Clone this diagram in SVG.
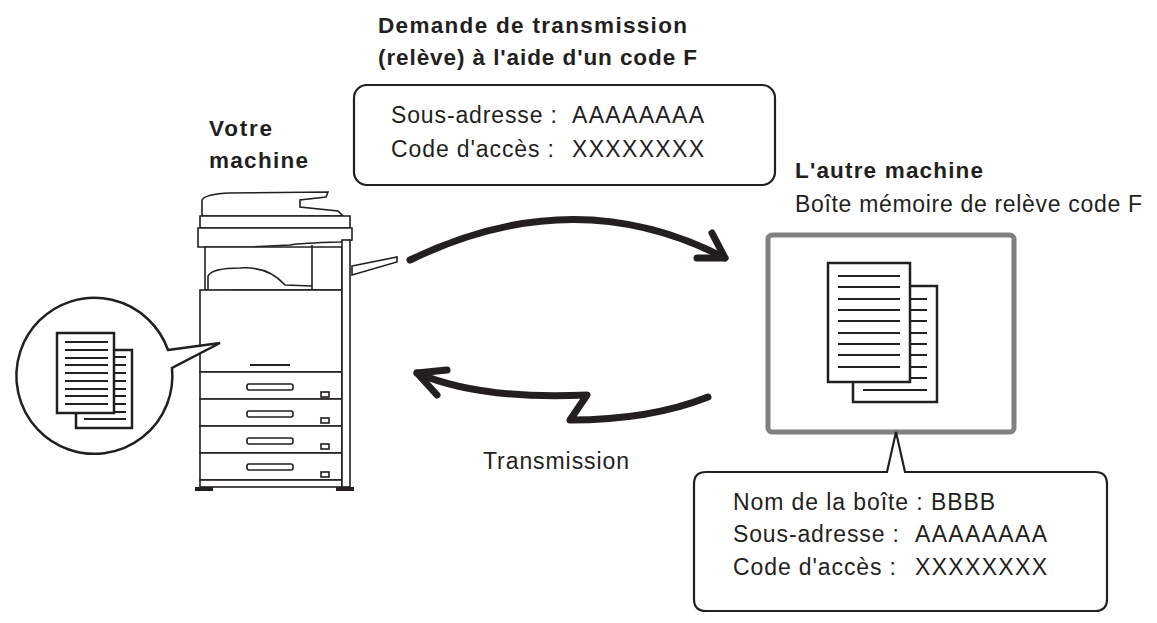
<svg xmlns="http://www.w3.org/2000/svg" width="1157" height="623" viewBox="0 0 1157 623">
<style>
text{font-family:"Liberation Sans",Arial,sans-serif;fill:#231f20}
.b{font-weight:bold;font-size:22.5px}
.t{font-size:23px}
.ln{stroke:#231f20;fill:none;stroke-width:2.2}
.pg{stroke:#231f20;fill:#fff;stroke-width:2.5}
.arr{stroke:#231f20;fill:none;stroke-width:7;stroke-linecap:round;stroke-linejoin:round}
.pr{stroke:#231f20;fill:#fff;stroke-width:1.6}
</style>
<rect width="1157" height="623" fill="#fff"/>
<g id="titre">
<text class="b" x="378" y="33" textLength="309">Demande de transmission</text>
<text class="b" x="378" y="65" textLength="319">(relève) à l'aide d'un code F</text>
</g>
<g id="demande">
<rect x="354" y="85" width="421" height="100" rx="13" class="ln"/>
<text class="t" x="391" y="123" textLength="166">Sous-adresse :</text>
<text class="t" x="572" y="123" textLength="132">AAAAAAAA</text>
<text class="t" x="391" y="157" textLength="163">Code d'accès :</text>
<text class="t" x="572" y="157" textLength="132">XXXXXXXX</text>
</g>
<g id="votre-machine">
<text class="b" x="209" y="136" textLength="63">Votre</text>
<text class="b" x="209" y="168" textLength="99">machine</text>
<path class="pr" d="M202 200 Q205 194 230 193 L328 192 L326 197 L300 200 L300 207 L338 211 L343 216 L202 216 Z"/>
<path class="pr" d="M200 216 L350 216 L350 228 L200 228 Z"/>
<path class="pr" d="M198 228 L352 228 L352 240 L340 242 Q300 243 290 245 L250 247 L198 247 Z"/>
<path class="pr" d="M205 247 L342 247 L342 290 L205 290 Z"/>
<path class="pr" d="M312 245 L312 290 M208 290 L208 276 Q212 268 240 268 Q268 266 285 285 L312 286"/>
<rect class="pr" x="200" y="290" width="142" height="82"/>
<line class="ln" x1="250" y1="365" x2="290" y2="365" stroke-width="1.5"/>
<rect class="pr" x="200" y="372" width="142" height="27"/>
<rect class="pr" x="200" y="399" width="142" height="27"/>
<rect class="pr" x="200" y="426" width="142" height="27"/>
<rect class="pr" x="200" y="453" width="142" height="27"/>
<rect class="pr" x="200" y="480" width="142" height="7"/>
<rect class="pr" x="247" y="384" width="46" height="6" rx="2"/>
<rect class="pr" x="247" y="411" width="46" height="6" rx="2"/>
<rect class="pr" x="247" y="438" width="46" height="6" rx="2"/>
<rect class="pr" x="247" y="464" width="46" height="6" rx="2"/>
<rect class="pr" x="321" y="392" width="8" height="5"/>
<rect class="pr" x="321" y="418" width="8" height="5"/>
<rect class="pr" x="321" y="444" width="8" height="5"/>
<rect class="pr" x="321" y="472" width="8" height="5"/>
<rect class="pr" x="342" y="240" width="8" height="247"/>
<path class="pr" d="M352 266 L397 257 L397 262 L352 275 Z"/>
<rect x="195" y="487" width="18" height="4" fill="#231f20"/>
<rect x="336" y="487" width="18" height="4" fill="#231f20"/>
</g>
<g id="zoom-doc">
<path class="pg" d="M168 350 L220 343 L172 368 A78 78 0 1 1 168 350 Z"/>
<rect class="pg" x="76" y="350" width="56" height="78"/>
<rect class="pg" x="57" y="333" width="57" height="80"/>
<g class="ln" stroke-width="1.5">
<path d="M65 342H108M65 350H108M65 358H108M65 365H108M65 373H108M65 381H108M65 389H108M65 396H108M65 404H108"/>
<path d="M114 357H126M114 365H126M114 373H126M114 381H126M114 389H126M114 396H126M114 404H126M114 412H126M84 419H126"/>
</g>
</g>
<g id="autre-machine">
<text class="b" x="795" y="178" textLength="188">L'autre machine</text>
<text class="t" x="795" y="212" textLength="347">Boîte mémoire de relève code F</text>
<rect x="768" y="235" width="246" height="197" rx="4" fill="#fff" stroke="#808080" stroke-width="5"/>
<rect class="pg" x="853" y="286" width="84" height="116"/>
<rect class="pg" x="828" y="263" width="82" height="119"/>
<g class="ln" stroke-width="2">
<path d="M838 276H900M838 287H900M838 299H900M838 310H900M838 321H900M838 333H900M838 344H900M838 355H900M838 367H900"/>
<path d="M910 299H927M910 310H927M910 321H927M910 333H927M910 344H927M910 355H927M910 367H927M910 378H927M863 390H927"/>
</g>
</g>
<g id="boite">
<path class="ln" d="M706 472 L887 472 L896 432 L905 472 L1095 472 Q1107 472 1107 484 L1107 599 Q1107 611 1095 611 L706 611 Q694 611 694 599 L694 484 Q694 472 706 472 Z"/>
<text class="t" x="733" y="510" textLength="262">Nom de la boîte : BBBB</text>
<text class="t" x="733" y="542" textLength="166">Sous-adresse :</text>
<text class="t" x="915" y="542" textLength="132">AAAAAAAA</text>
<text class="t" x="733" y="575" textLength="163">Code d'accès :</text>
<text class="t" x="915" y="575" textLength="132">XXXXXXXX</text>
</g>
<g id="connecteurs">
<path class="arr" d="M410 260 Q575 180 725 258"/>
<path class="arr" d="M712 233 L725 258 L697 258"/>
<path class="arr" d="M708 397 Q650 420 570 420 L587 395 Q480 400 417 373"/>
<path class="arr" d="M447 370 L417 373 L437 395"/>
<text class="t" x="483" y="469" textLength="146">Transmission</text>
</g>
</svg>
